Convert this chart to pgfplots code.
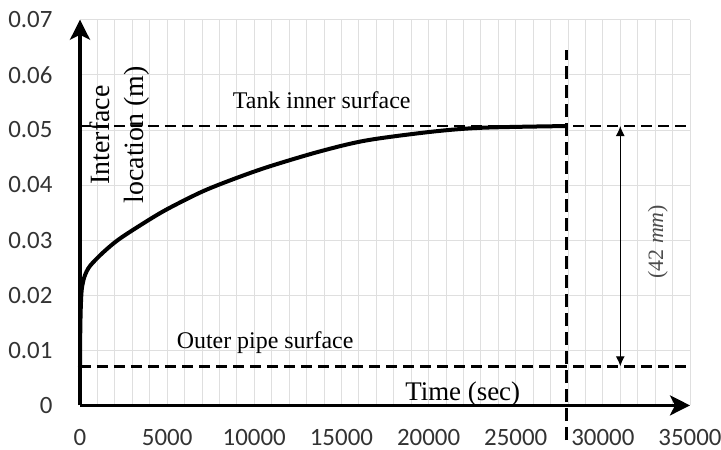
\documentclass[border=0pt]{standalone}
\usepackage{fontspec}
\setmainfont{Liberation Serif}
\newfontfamily\calibri{Carlito}
\usepackage{pgfplots}
\pgfplotsset{compat=1.18}
\usetikzlibrary{arrows.meta}

\begin{document}
\begin{tikzpicture}
\useasboundingbox (-80bp,-44.6bp) rectangle (641bp,405.4bp);
\begin{axis}[
  scale only axis, width=610bp, height=385.7bp,
  xmin=0, xmax=35000, ymin=0, ymax=0.07,
  axis lines=left,
  axis line style={line width=3.5bp, -{Stealth[length=20bp,width=20bp,inset=5bp]}},
  scaled ticks=false,
  xtick={0,5000,10000,15000,20000,25000,30000,35000},
  ytick={0,0.01,0.02,0.03,0.04,0.05,0.06,0.07},
  xticklabels={0,5000,10000,15000,20000,25000,30000,35000},
  yticklabels={0,0.01,0.02,0.03,0.04,0.05,0.06,0.07},
  minor x tick num=4,
  grid=both,
  major grid style={gray!25, line width=0.8bp},
  minor grid style={gray!25, line width=0.8bp},
  major tick length=0pt, minor tick length=0pt,
  tick label style={font=\calibri\fontsize{25}{25}\selectfont, text=black!80},
  /pgf/number format/assume math mode=true,
  xticklabel style={yshift=-20bp},
  yticklabel style={xshift=-24bp},
  clip=false,
]
% surface lines
\addplot[black, line width=2.5bp, dash pattern=on 11bp off 6bp] coordinates {(0,0.0507) (35000,0.0507)};
\addplot[black, line width=2.5bp, dash pattern=on 11bp off 6bp] coordinates {(0,0.0071) (35000,0.0071)};
\addplot[black, line width=2.5bp, dash pattern=on 13bp off 6bp] coordinates {(27900,-0.0063) (27900,0.0645)};
% 42 mm dimension
\addplot[black, line width=1.2bp, {Latex[length=10bp,width=9bp]}-{Latex[length=10bp,width=9bp]}] coordinates {(31000,0.0071) (31000,0.0507)};
% interface location
\addplot[black, line width=4bp, smooth, tension=0.5] coordinates {
  (0,0.0071) (10,0.012) (30,0.016) (60,0.019) (110,0.0213) (260,0.0234)
  (570,0.0253) (1340,0.0278) (2300,0.0303) (4020,0.0338) (5170,0.0359)
  (7080,0.0389) (9000,0.0413) (10900,0.0434) (13770,0.0461) (16450,0.0481)
  (20270,0.0497) (23140,0.0504) (27900,0.0507)
};
\node[anchor=base, font=\fontsize{24}{24}\selectfont] at (axis cs:13870,0.0539) {Tank inner surface};
\node[anchor=base, font=\fontsize{24}{24}\selectfont] at (axis cs:10620,0.01036) {Outer pipe surface};
\node[anchor=base, font=\fontsize{27}{27}\selectfont] at (axis cs:21960,0.00098) {Time (sec)};
\node[rotate=90, align=center, font=\fontsize{28}{34}\selectfont] at (axis cs:2300,0.0491) {Interface\\location (m)};
\node[rotate=90, text=black!70, font=\fontsize{22}{22}\selectfont] at (axis cs:33160,0.0297) {(42 \textit{mm})};
\end{axis}
\end{tikzpicture}
\end{document}
